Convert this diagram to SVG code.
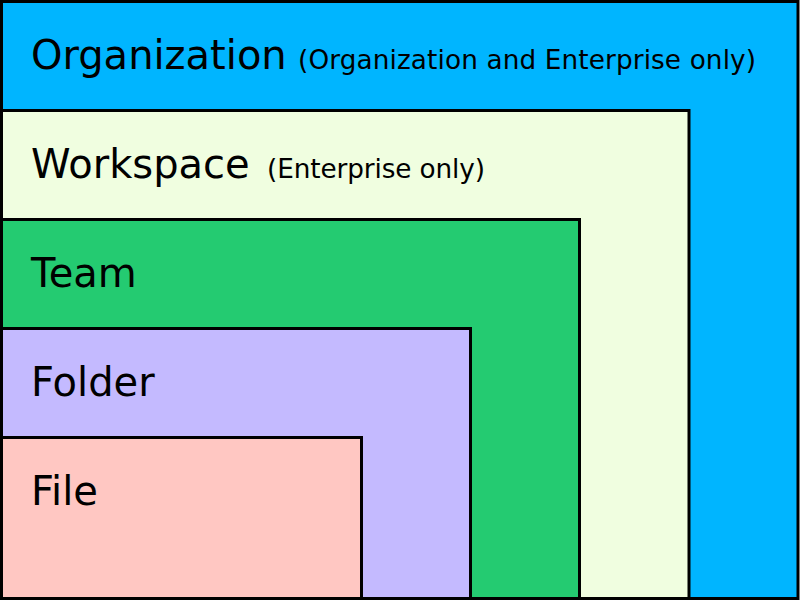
<svg xmlns="http://www.w3.org/2000/svg" width="800" height="600" viewBox="0 0 800 600">
<style>
rect{stroke:#000;stroke-width:3}
.t{font-family:"DejaVu Sans",sans-serif;font-size:40px;fill:#000}
.s{font-family:"DejaVu Sans",sans-serif;font-size:26.3px;fill:#000}
</style>
<g id="organization">
<rect x="1.5" y="1.5" width="796.5" height="597" fill="#00B5FF"/>
<text class="t" x="31" y="69">Organization</text>
<text class="s" x="298" y="69" textLength="458">(Organization and Enterprise only)</text>
</g>
<g id="workspace">
<rect x="1.5" y="110.5" width="687.5" height="488" fill="#F0FEE0"/>
<text class="t" x="31" y="178">Workspace</text>
<text class="s" x="267" y="178" textLength="218">(Enterprise only)</text>
</g>
<g id="team">
<rect x="1.5" y="219.5" width="578" height="379" fill="#24CB71"/>
<text class="t" x="31" y="287">Team</text>
</g>
<g id="folder">
<rect x="1.5" y="328.5" width="469" height="270" fill="#C4BAFF"/>
<text class="t" x="31" y="396">Folder</text>
</g>
<g id="file">
<rect x="1.5" y="437.5" width="360" height="161" fill="#FFC7C2"/>
<text class="t" x="31" y="505">File</text>
</g>
<g id="connectors"/>
</svg>
